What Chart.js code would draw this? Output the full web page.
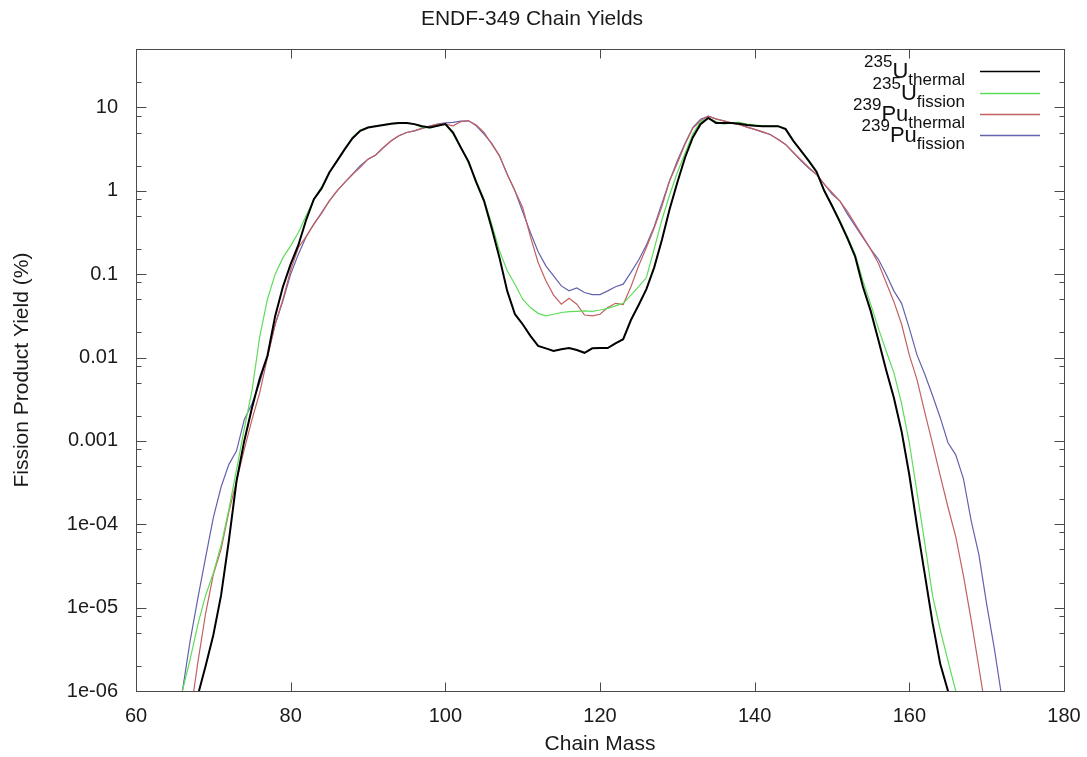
<!DOCTYPE html>
<html>
<head>
<meta charset="utf-8">
<title>ENDF-349 Chain Yields</title>
<script src="https://cdn.jsdelivr.net/npm/chart.js@4"></script>
<style>
  body { margin: 0; background: #fff; }
  #wrap { width: 1087px; height: 757px; }
</style>
</head>
<body>
<div id="wrap"><canvas id="yields"></canvas></div>
<script>
// chain mass numbers, one value per mass in each series (null = not drawn)
const chainMass = [
  65, 66, 67, 68, 69, 70, 71, 72, 73, 74,
  75, 76, 77, 78, 79, 80, 81, 82, 83, 84,
  85, 86, 87, 88, 89, 90, 91, 92, 93, 94,
  95, 96, 97, 98, 99, 100, 101, 102, 103, 104,
  105, 106, 107, 108, 109, 110, 111, 112, 113, 114,
  115, 116, 117, 118, 119, 120, 121, 122, 123, 124,
  125, 126, 127, 128, 129, 130, 131, 132, 133, 134,
  135, 136, 137, 138, 139, 140, 141, 142, 143, 144,
  145, 146, 147, 148, 149, 150, 151, 152, 153, 154,
  155, 156, 157, 158, 159, 160, 161, 162, 163, 164,
  165, 166, 167, 168, 169, 170, 171, 172
];

// yields in %
const u235Thermal = [
  null, 1.0e-7, 2.5e-7, 8.9e-7, 2.0e-6, 4.7e-6, 1.4e-5, 6.3e-5, 3.3e-4, 1.0e-3,
  2.5e-3, 5.6e-3, 0.0105, 0.0316, 0.0708, 0.132, 0.224, 0.447, 0.794, 1.07,
  1.66, 2.29, 3.16, 4.27, 5.25, 5.75, 5.96, 6.17, 6.38, 6.53,
  6.53, 6.31, 5.96, 5.75, 6.03, 6.31, 5.01, 3.31, 2.24, 1.26,
  0.759, 0.355, 0.158, 0.0631, 0.0331, 0.0251, 0.0182, 0.0138, 0.0129, 0.0120,
  0.0126, 0.0130, 0.0123, 0.0114, 0.0129, 0.0130, 0.0130, 0.0148, 0.0166, 0.0282,
  0.0427, 0.0661, 0.120, 0.257, 0.603, 1.26, 2.51, 4.37, 6.31, 7.50,
  6.53, 6.53, 6.53, 6.38, 6.17, 6.03, 5.97, 5.97, 5.97, 5.50,
  3.98, 3.02, 2.29, 1.70, 1.00, 0.661, 0.427, 0.269, 0.162, 0.0708,
  0.0363, 0.0162, 7.1e-3, 3.3e-3, 1.3e-3, 3.9e-4, 9.5e-5, 2.5e-5, 6.6e-6, 2.1e-6,
  1.0e-6, 4.0e-7, null, null, null, null, null, null
];

const u235Fission = [
  2.0e-7, 1.0e-6, 2.4e-6, 6.3e-6, 1.4e-5, 2.6e-5, 5.6e-5, 1.5e-4, 4.5e-4, 1.4e-3,
  4.0e-3, 0.0178, 0.0501, 0.100, 0.158, 0.219, 0.316, 0.501, 0.794, 1.12,
  1.66, 2.29, 3.16, 4.37, 5.37, 5.75, 6.03, 6.17, 6.46, 6.53,
  6.53, 6.31, 5.75, 5.69, 6.03, 6.31, 4.79, 3.31, 2.14, 1.32,
  0.794, 0.398, 0.191, 0.110, 0.0759, 0.0501, 0.0398, 0.0339, 0.0316, 0.0331,
  0.0347, 0.0355, 0.0359, 0.0363, 0.0359, 0.0372, 0.0389, 0.0417, 0.0447, 0.0562,
  0.0708, 0.0912, 0.200, 0.447, 0.891, 1.66, 2.82, 4.79, 6.76, 7.41,
  6.76, 6.31, 6.53, 6.61, 6.31, 6.17, 6.03, 6.03, 6.03, 5.62,
  3.98, 3.02, 2.24, 1.66, 1.00, 0.676, 0.447, 0.282, 0.174, 0.0832,
  0.0437, 0.0224, 0.0120, 6.6e-3, 2.8e-3, 9.5e-4, 2.4e-4, 5.9e-5, 1.4e-5, 5.4e-6,
  2.3e-6, 1.0e-6, 4.0e-7, null, null, null, null, null
];

const pu239Thermal = [
  null, 1.0e-7, 5.0e-7, 2.2e-6, 8.5e-6, 2.5e-5, 5.0e-5, 1.4e-4, 3.3e-4, 7.9e-4,
  1.8e-3, 3.8e-3, 0.0100, 0.0251, 0.0501, 0.112, 0.209, 0.282, 0.398, 0.537,
  0.759, 1.00, 1.26, 1.58, 1.91, 2.40, 2.69, 3.31, 3.98, 4.57,
  5.01, 5.25, 5.62, 5.96, 6.31, 6.31, 6.03, 6.76, 6.92, 6.17,
  5.01, 3.63, 2.63, 1.58, 1.00, 0.631, 0.282, 0.138, 0.0832, 0.0562,
  0.0437, 0.0513, 0.0437, 0.0324, 0.0316, 0.0331, 0.0398, 0.0447, 0.0432, 0.0708,
  0.126, 0.209, 0.355, 0.646, 1.32, 2.14, 3.63, 5.62, 6.92, 7.85,
  7.24, 6.92, 6.53, 6.24, 5.82, 5.45, 5.13, 4.74, 4.17, 3.60,
  2.88, 2.34, 1.91, 1.57, 1.20, 0.955, 0.759, 0.562, 0.398, 0.282,
  0.200, 0.135, 0.0794, 0.0468, 0.0251, 0.0107, 5.4e-3, 2.2e-3, 9.3e-4, 3.8e-4,
  1.6e-4, 7.1e-5, 2.4e-5, 7.1e-6, 1.9e-6, 5.0e-7, null, null
];

const pu239Fission = [
  2.5e-7, 1.0e-6, 4.0e-6, 1.3e-5, 4.0e-5, 1.2e-4, 2.8e-4, 5.2e-4, 7.6e-4, 1.8e-3,
  2.8e-3, 5.0e-3, 0.0105, 0.0251, 0.0479, 0.100, 0.174, 0.282, 0.398, 0.550,
  0.759, 1.00, 1.26, 1.58, 2.00, 2.40, 2.69, 3.31, 3.98, 4.57,
  5.01, 5.25, 5.62, 5.96, 6.31, 6.53, 6.61, 6.84, 6.92, 6.03,
  4.79, 3.72, 2.63, 1.58, 1.00, 0.562, 0.316, 0.186, 0.126, 0.0955,
  0.0724, 0.0631, 0.0684, 0.0603, 0.0569, 0.0569, 0.0631, 0.0708, 0.0759, 0.105,
  0.148, 0.224, 0.372, 0.708, 1.32, 2.29, 3.72, 5.75, 7.24, 7.85,
  7.33, 6.92, 6.53, 6.24, 5.82, 5.45, 5.07, 4.74, 4.17, 3.60,
  2.88, 2.29, 1.86, 1.57, 1.20, 0.912, 0.759, 0.525, 0.380, 0.275,
  0.200, 0.151, 0.100, 0.0631, 0.0447, 0.0224, 0.0107, 6.3e-3, 3.5e-3, 1.9e-3,
  9.5e-4, 6.8e-4, 3.5e-4, 1.1e-4, 4.3e-5, 1.1e-5, 3.2e-6, 7.9e-7
];

// axis ticks
const xTicks = [60, 80, 100, 120, 140, 160, 180];
const yTickValues = [1e-6, 1e-5, 1e-4, 1e-3, 1e-2, 1e-1, 1, 10];
const yTickLabels = ['1e-06', '1e-05', '1e-04', '0.001', '0.01', '0.1', '1', '10'];
const yMinorSteps = [2, 5, 8];

// legend text pieces: superscript, symbol, subscript
const legendSup = ['235', '235', '239', '239'];
const legendMain = ['U', 'U', 'Pu', 'Pu'];
const legendSub = ['thermal', 'fission', 'thermal', 'fission'];

const colors = ['#000000', '#5fdc5a', '#c46060', '#6462ae'];
const widths = [2, 1.2, 1.2, 1.2];
const seriesList = [u235Thermal, u235Fission, pu239Thermal, pu239Fission];

const FONT = "'Liberation Sans', Arial, Helvetica, sans-serif";
Chart.defaults.font.family = FONT;
Chart.defaults.color = '#1a1a1a';

function points(vals) {
  return chainMass.map((m, i) => ({ x: m, y: vals[i] }));
}

// gnuplot style frame with inward ticks on all four sides
const framePlugin = {
  id: 'frame',
  afterDatasetsDraw(chart) {
    const ctx = chart.ctx;
    const a = chart.chartArea;
    const xs = chart.scales.x;
    const ys = chart.scales.y;
    ctx.save();
    ctx.strokeStyle = '#4a4a4a';
    ctx.lineWidth = 1;
    const l = Math.round(a.left) + 0.5, r = Math.round(a.right) + 0.5;
    const t = Math.round(a.top) + 0.5, b = Math.round(a.bottom) + 0.5;
    ctx.strokeRect(l, t, r - l, b - t);
    ctx.beginPath();
    xTicks.forEach(v => {
      const px = Math.round(xs.getPixelForValue(v)) + 0.5;
      ctx.moveTo(px, b); ctx.lineTo(px, b - 9);
      ctx.moveTo(px, t); ctx.lineTo(px, t + 9);
    });
    yTickValues.forEach(v => {
      const py = Math.round(ys.getPixelForValue(v)) + 0.5;
      ctx.moveTo(l, py); ctx.lineTo(l + 10, py);
      ctx.moveTo(r, py); ctx.lineTo(r - 10, py);
      yMinorSteps.forEach(s => {
        const mv = v * s;
        if (mv > ys.max) return;
        const my = Math.round(ys.getPixelForValue(mv)) + 0.5;
        ctx.moveTo(l, my); ctx.lineTo(l + 5, my);
        ctx.moveTo(r, my); ctx.lineTo(r - 5, my);
      });
    });
    ctx.stroke();
    ctx.restore();
  }
};

// legend with isotope superscripts and subscripts
const keyPlugin = {
  id: 'isoKey',
  afterDraw(chart) {
    const ctx = chart.ctx;
    const a = chart.chartArea;
    const lineX0 = a.right - 84, lineX1 = a.right - 24;
    const textEnd = a.right - 99;
    ctx.save();
    ctx.textAlign = 'left';
    ctx.textBaseline = 'alphabetic';
    ctx.fillStyle = '#111';
    for (let i = 0; i < legendMain.length; i++) {
      const ly = a.top + 22 + i * 21.3;
      ctx.strokeStyle = colors[i];
      ctx.lineWidth = 1.4;
      ctx.beginPath();
      ctx.moveTo(lineX0, Math.round(ly) + 0.5);
      ctx.lineTo(lineX1, Math.round(ly) + 0.5);
      ctx.stroke();

      ctx.font = '17px ' + FONT;
      const subW = ctx.measureText(legendSub[i]).width;
      ctx.font = '22px ' + FONT;
      const mainW = ctx.measureText(legendMain[i]).width;
      ctx.font = '17px ' + FONT;
      const supW = ctx.measureText(legendSup[i]).width;

      const subX = textEnd - subW;
      const mainX = subX - mainW;
      const supX = mainX - supW;
      ctx.font = '17px ' + FONT;
      ctx.fillText(legendSup[i], supX, ly - 4);
      ctx.fillText(legendSub[i], subX, ly + 14);
      ctx.font = '22px ' + FONT;
      ctx.fillText(legendMain[i], mainX, ly + 7);
    }
    ctx.restore();
  }
};

const ctx = document.getElementById('yields');

new Chart(ctx, {
  type: 'line',
  data: {
    datasets: seriesList.map((vals, i) => ({
      label: legendSup[i] + legendMain[i] + ' ' + legendSub[i],
      data: points(vals),
      borderColor: colors[i],
      borderWidth: widths[i],
      pointRadius: 0,
      tension: 0,
      fill: false,
      spanGaps: false
    }))
  },
  options: {
    responsive: true,
    maintainAspectRatio: false,
    animation: false,
    layout: { padding: { left: 0, right: 23, top: 0, bottom: 0 } },
    plugins: {
      legend: { display: false },
      tooltip: { enabled: false },
      title: {
        display: true,
        text: 'ENDF-349 Chain Yields',
        color: '#1a1a1a',
        font: { size: 21, weight: 'normal' },
        padding: { top: 7, bottom: 17 }
      }
    },
    scales: {
      x: {
        type: 'linear',
        min: 60,
        max: 180,
        afterFit: s => {
          s.height = 66;
          s.paddingLeft = 0;
          s.paddingRight = 0;
        },
        afterBuildTicks: s => { s.ticks = xTicks.map(v => ({ value: v })); },
        grid: { display: false, drawTicks: false },
        border: { display: false },
        ticks: { autoSkip: false, maxRotation: 0, padding: 13, font: { size: 20 } },
        title: {
          display: true,
          text: 'Chain Mass',
          font: { size: 21 },
          padding: { top: 0, bottom: 0 }
        }
      },
      y: {
        type: 'logarithmic',
        min: 1e-6,
        max: 50,
        afterFit: s => { s.width = 136; },
        afterBuildTicks: s => { s.ticks = yTickValues.map(v => ({ value: v })); },
        grid: { display: false, drawTicks: false },
        border: { display: false },
        ticks: {
          autoSkip: false,
          padding: 18,
          font: { size: 20 },
          callback: (v, i) => yTickLabels[i]
        },
        title: {
          display: true,
          text: 'Fission Product Yield (%)',
          font: { size: 21 },
          padding: { top: 10, bottom: 0 }
        }
      }
    }
  },
  plugins: [framePlugin, keyPlugin]
});
</script>
</body>
</html>
